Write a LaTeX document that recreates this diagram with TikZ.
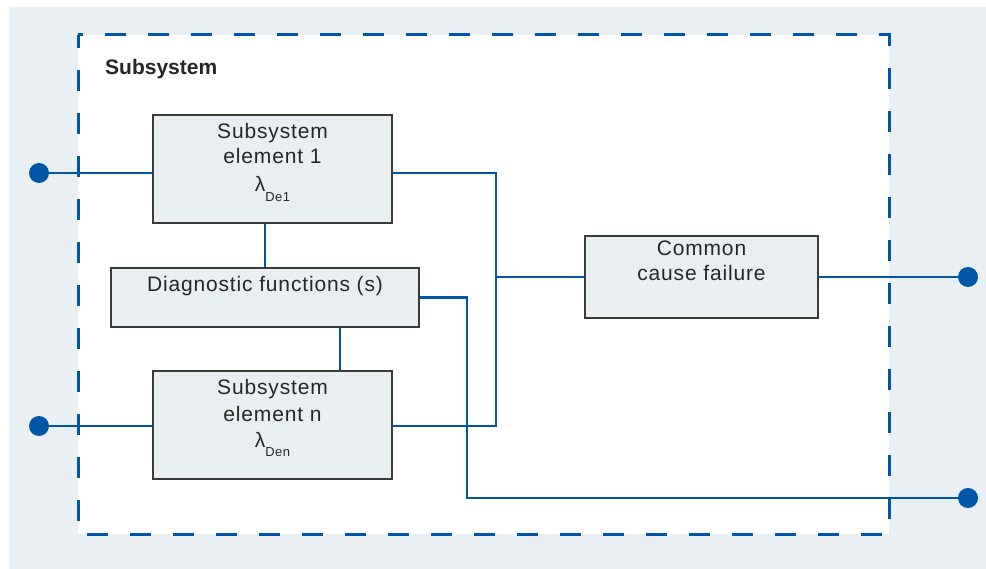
\documentclass[tikz,border=0pt]{standalone}
\usepackage{fontspec}
\setmainfont{Liberation Sans}
\newfontfamily\boxfont{Liberation Sans}[LetterSpace=4]
\newfontfamily\titlefont{Liberation Sans}
\usetikzlibrary{calc}
\definecolor{bgc}{RGB}{233,239,242}
\definecolor{boxc}{RGB}{233,238,241}
\definecolor{bluec}{RGB}{0,86,166}
\definecolor{edgec}{RGB}{58,58,58}
\definecolor{textc}{RGB}{38,38,38}
\newcommand{\lamsub}[1]{λ\raisebox{-0.9ex}{\fontsize{13}{13}\selectfont #1}}
\begin{document}
\begin{tikzpicture}[x=1pt,y=-1pt,
  blk/.style={draw=edgec, line width=1.3pt, fill=boxc, inner sep=0pt, rectangle},
  txt/.style={anchor=base, inner sep=0pt, text=textc, font=\boxfont\fontsize{21}{25}\selectfont},
  wire/.style={draw=bluec, line width=2.6pt},
  dot/.style={circle, fill=bluec, inner sep=0pt, minimum size=20pt}]
\useasboundingbox (0,0) rectangle (986,569);
\fill[bgc] (9,7) rectangle (986,569);
\fill[white] (78,35) rectangle (889,534);
\draw[bluec, line width=3pt, dash pattern=on 21pt off 22pt, dash phase=8pt] (78,35) rectangle (889,534);

\node[anchor=base west, inner sep=0pt, text=textc, font=\titlefont\bfseries\fontsize{21}{25}\selectfont] (title) at (105,75) {Subsystem};

\node[blk, minimum width=239pt, minimum height=108pt] (e1) at (272.5,169) {};
\node[blk, minimum width=308pt, minimum height=59pt] (diag) at (265,297.5) {};
\node[blk, minimum width=239pt, minimum height=108pt] (en) at (272.5,425) {};
\node[blk, minimum width=233pt, minimum height=82pt] (ccf) at (701.5,277) {};

\node[txt] (e1a) at (272.5,139) {Subsystem};
\node[txt] (e1b) at (272.5,164) {element 1};
\node[txt] (e1c) at (272.5,192) {\lamsub{De1}};
\node[txt] (diagt) at (265,292) {Diagnostic functions (s)};
\node[txt] (ena) at (272.5,395) {Subsystem};
\node[txt] (enb) at (272.5,421) {element n};
\node[txt] (enc) at (272.5,447) {\lamsub{Den}};
\node[txt] (ccfa) at (701.5,256) {Common};
\node[txt] (ccfb) at (701.5,281) {cause failure};

\node[dot] (in1) at (39,173) {};
\node[dot] (inn) at (39,426) {};
\node[dot] (out1) at (968,277) {};
\node[dot] (out2) at (968,498) {};

\coordinate (j1) at (496,173);
\coordinate (j2) at (496,426);
\coordinate (j3) at (496,277);
\coordinate (d2) at (340,350);
\coordinate (k2) at (467,498);

\draw[wire] (in1) -- (in1 -| e1.west);
\draw[wire] (inn) -- (inn -| en.west);
\draw[wire] (e1.east |- j1) -- (j1) -- (j2) -- (en.east |- j2);
\draw[wire] (j3) -- (ccf.west);
\draw[wire] (ccf.east) -- (out1);
\draw[wire] (diag.north) -- (diag.north |- e1.south);
\draw[wire] (d2 |- diag.south) -- (d2 |- en.north);
\draw[wire] (diag.east) -| (k2) -- (out2);
\end{tikzpicture}
\end{document}
